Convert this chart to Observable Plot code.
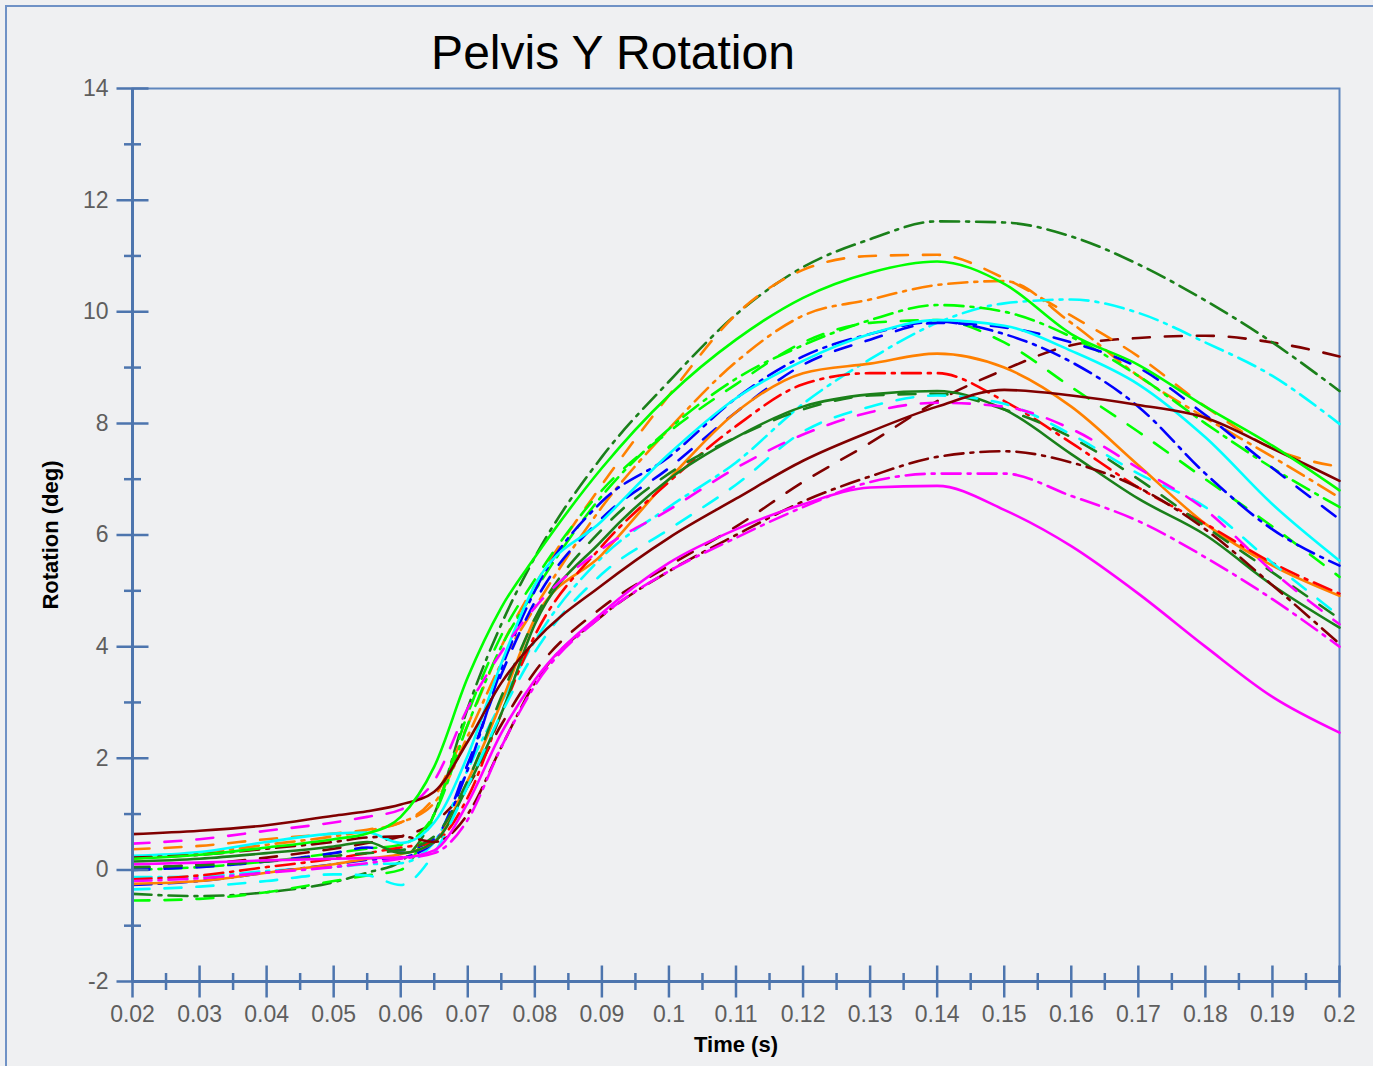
<!DOCTYPE html>
<html>
<head>
<meta charset="utf-8">
<script src="https://cdn.jsdelivr.net/npm/d3@7"></script>
<script src="https://cdn.jsdelivr.net/npm/@observablehq/plot@0.6"></script>
<style>
  html, body { margin: 0; padding: 0; background: #eff0f2; overflow: hidden; }
  #wrap { position: relative; width: 1373px; height: 1066px; }
  #border { position: absolute; left: 5px; top: 5px; width: 1400px; height: 1100px; border: 2px solid #6f92c6; box-sizing: border-box; }
  #chart { position: absolute; left: 0; top: 0; }
</style>
</head>
<body>
<div id="wrap"><div id="border"></div><div id="chart"></div></div>
<script>
// ---- data ----
const time = [0.02,0.03,0.04,0.05,0.055,0.06,0.065,0.07,0.075,0.08,0.09,0.10,0.11,0.12,0.13,0.14,0.15,0.16,0.17,0.18,0.19,0.20];

const darkredSolid    = [0.64,0.70,0.80,0.97,1.05,1.17,1.40,2.30,3.35,4.10,5.10,5.95,6.65,7.33,7.85,8.30,8.60,8.50,8.33,8.10,7.55,6.97];
const darkredDashed   = [0.02,0.10,0.22,0.38,0.48,0.60,0.85,1.50,2.60,3.55,4.70,5.45,6.15,6.95,7.65,8.40,8.96,9.40,9.53,9.57,9.45,9.20];
const darkredDashDot  = [0.22,0.27,0.38,0.50,0.58,0.60,0.50,1.00,2.20,3.35,4.55,5.35,6.00,6.60,7.05,7.40,7.50,7.30,6.85,6.10,5.10,4.05];
const magentaSolid    = [0.10,0.13,0.17,0.20,0.21,0.22,0.35,1.20,2.45,3.40,4.60,5.50,6.10,6.55,6.85,6.88,6.45,5.80,4.95,4.00,3.10,2.46];
const magentaDashed   = [0.47,0.55,0.70,0.85,0.95,1.08,1.60,2.90,3.90,4.70,5.75,6.45,7.20,7.80,8.20,8.37,8.30,7.90,7.20,6.45,5.35,4.40];
const magentaDashDot  = [-0.20,-0.15,-0.05,0.05,0.12,0.20,0.30,0.90,2.20,3.30,4.55,5.35,5.95,6.50,6.95,7.10,7.10,6.70,6.25,5.60,4.85,4.00];
const orangeSolid     = [-0.25,-0.20,-0.05,0.10,0.20,0.28,0.50,1.60,3.00,4.50,5.65,7.00,8.20,8.90,9.07,9.25,9.00,8.30,7.25,6.20,5.45,4.91];
const orangeDashed    = [0.37,0.43,0.55,0.65,0.72,0.85,1.30,2.60,4.00,5.10,6.90,8.50,9.95,10.75,11.00,11.02,10.60,9.93,9.20,8.30,7.55,7.22];
const orangeDashDot   = [0.20,0.30,0.45,0.60,0.70,0.85,1.20,2.40,3.70,4.70,6.50,7.90,9.10,9.93,10.22,10.48,10.55,9.80,8.85,8.10,7.40,6.67];
const cyanSolid       = [0.25,0.32,0.50,0.65,0.67,0.48,0.85,2.05,3.70,5.10,6.25,7.45,8.45,9.12,9.60,9.85,9.75,9.30,8.70,7.75,6.55,5.54];
const cyanDashed      = [-0.35,-0.30,-0.20,-0.08,-0.10,-0.27,0.30,1.50,2.80,3.90,5.30,6.10,6.90,7.85,8.30,8.50,8.35,7.80,7.10,6.50,5.50,4.55];
const cyanDashDot     = [-0.13,-0.12,-0.02,0.05,0.10,0.12,0.50,1.80,3.00,4.10,5.60,6.50,7.30,8.35,9.15,9.80,10.15,10.22,9.98,9.45,8.85,7.99];
const greenSolid      = [0.20,0.27,0.40,0.55,0.65,0.95,1.85,3.45,4.70,5.60,7.20,8.50,9.50,10.25,10.70,10.90,10.50,9.60,9.05,8.30,7.60,6.80];
const greenDashed     = [-0.55,-0.52,-0.40,-0.20,-0.10,0.00,1.00,2.80,4.20,5.20,6.80,7.85,8.70,9.45,9.80,9.85,9.45,8.65,7.85,7.00,6.15,5.25];
const greenDashDot    = [0.00,0.05,0.15,0.30,0.38,0.45,1.00,2.60,4.00,5.00,6.70,7.90,8.80,9.40,9.85,10.12,10.00,9.55,8.85,8.00,7.20,6.50];
const darkgreenSolid  = [0.15,0.20,0.30,0.42,0.50,0.30,0.50,1.50,2.80,4.40,5.90,7.00,7.75,8.30,8.52,8.58,8.25,7.45,6.65,6.00,5.10,4.34];
const darkgreenDashed = [0.05,0.08,0.15,0.25,0.30,0.35,0.60,1.60,3.10,4.50,6.10,7.10,7.75,8.25,8.50,8.53,8.25,7.75,7.00,6.15,5.33,4.50];
const darkgreenDashDot= [-0.43,-0.47,-0.40,-0.22,-0.05,0.15,1.00,2.90,4.40,5.60,7.40,8.75,9.95,10.80,11.30,11.62,11.60,11.35,10.85,10.20,9.45,8.58];
const blueDashed      = [0.00,0.05,0.15,0.30,0.40,0.35,0.55,1.90,3.50,4.80,6.30,7.20,8.20,9.05,9.50,9.80,9.72,9.45,9.00,8.15,7.20,6.28];
const blueDashDot     = [-0.27,-0.20,-0.05,0.10,0.18,0.22,0.50,1.80,3.60,5.00,6.60,7.40,8.45,9.20,9.60,9.82,9.60,9.10,8.30,7.10,6.10,5.45];
const redDashDot      = [-0.17,-0.10,0.05,0.20,0.30,0.40,0.50,1.30,2.80,4.20,5.80,6.95,7.95,8.70,8.90,8.90,8.40,7.65,6.85,6.20,5.50,4.95];

const xTicks = [0.02,0.03,0.04,0.05,0.06,0.07,0.08,0.09,0.1,0.11,0.12,0.13,0.14,0.15,0.16,0.17,0.18,0.19,0.2];
const xMinor = [0.025,0.035,0.045,0.055,0.065,0.075,0.085,0.095,0.105,0.115,0.125,0.135,0.145,0.155,0.165,0.175,0.185,0.195];
const yTicks = [-2,0,2,4,6,8,10,12,14];
const yMinor = [-1,1,3,5,7,9,11,13];

const titleText = "Pelvis Y Rotation";
const xLabel = "Time (s)";
const yLabel = "Rotation (deg)";

// ---- styles ----
const C = {darkred:"#800000", magenta:"#ff00ff", orange:"#ff8000", cyan:"#00ffff",
           green:"#00ff00", darkgreen:"#1a801a", blue:"#0000ff", red:"#ff0000"};
const DASH = "17,15";
const DASHDOT = "19,7,3,7";

const series = [
  {values: darkredDashed,    color: C.darkred,   dash: DASH},
  {values: darkgreenDashDot, color: C.darkgreen, dash: DASHDOT},
  {values: orangeDashed,     color: C.orange,    dash: DASH},
  {values: orangeDashDot,    color: C.orange,    dash: DASHDOT},
  {values: cyanDashDot,      color: C.cyan,      dash: DASHDOT},
  {values: greenDashDot,     color: C.green,     dash: DASHDOT},
  {values: greenDashed,      color: C.green,     dash: DASH},
  {values: blueDashed,       color: C.blue,      dash: DASH},
  {values: blueDashDot,      color: C.blue,      dash: DASHDOT},
  {values: cyanSolid,        color: C.cyan,      dash: null},
  {values: orangeSolid,      color: C.orange,    dash: null},
  {values: redDashDot,       color: C.red,       dash: DASHDOT},
  {values: darkgreenDashed,  color: C.darkgreen, dash: DASH},
  {values: darkgreenSolid,   color: C.darkgreen, dash: null},
  {values: cyanDashed,       color: C.cyan,      dash: DASH},
  {values: magentaDashed,    color: C.magenta,   dash: DASH},
  {values: darkredDashDot,   color: C.darkred,   dash: DASHDOT},
  {values: magentaDashDot,   color: C.magenta,   dash: DASHDOT},
  {values: magentaSolid,     color: C.magenta,   dash: null},
  {values: darkredSolid,     color: C.darkred,   dash: null},
  {values: greenSolid,       color: C.green,     dash: null}
];

const axisColor = "#4d75ae";
const frameColor = "#5f86bd";
const labelColor = "#5e5e5e";
const font = "'Liberation Sans', Arial, Helvetica, sans-serif";

const vTick = h => ({draw(ctx) { ctx.moveTo(0, -h); ctx.lineTo(0, h); }});
const hTick = h => ({draw(ctx) { ctx.moveTo(-h, 0); ctx.lineTo(h, 0); }});

const lineMarks = series.map(s => Plot.line(time.map((t, i) => ({t, v: s.values[i]})), {
  x: "t", y: "v", stroke: s.color, strokeWidth: 2.6,
  strokeDasharray: s.dash, curve: "monotone-x"
}));

const chart = Plot.plot({
  width: 1373,
  height: 1066,
  marginLeft: 132,
  marginRight: 34,
  marginTop: 88,
  marginBottom: 85,
  style: {background: "transparent", fontFamily: font, overflow: "visible"},
  x: {domain: [0.02, 0.2], axis: null},
  y: {domain: [-2, 14], axis: null},
  marks: [
    Plot.frame({stroke: frameColor, strokeWidth: 2}),
    ...lineMarks,
    Plot.ruleX([0.02], {stroke: axisColor, strokeWidth: 3}),
    Plot.ruleY([-2], {stroke: axisColor, strokeWidth: 3}),
    Plot.dot(xTicks, {x: d => d, frameAnchor: "bottom", symbol: vTick(16), stroke: axisColor, strokeWidth: 2.5, fill: "none"}),
    Plot.dot(xMinor, {x: d => d, frameAnchor: "bottom", symbol: vTick(8.5), stroke: axisColor, strokeWidth: 2.5, fill: "none"}),
    Plot.dot(yTicks, {y: d => d, frameAnchor: "left", symbol: hTick(16), stroke: axisColor, strokeWidth: 2.5, fill: "none"}),
    Plot.dot(yMinor, {y: d => d, frameAnchor: "left", symbol: hTick(8.5), stroke: axisColor, strokeWidth: 2.5, fill: "none"}),
    Plot.axisX({ticks: xTicks, anchor: "bottom", tickSize: 0, tickPadding: 24, fontSize: 23, color: labelColor, tickFormat: d => String(d), label: null}),
    Plot.axisY({ticks: yTicks, anchor: "left", tickSize: 0, tickPadding: 24, fontSize: 23, color: labelColor, tickFormat: d => String(d), label: null}),
    Plot.text([titleText], {text: d => d, frameAnchor: "top", textAnchor: "middle", dx: -123, dy: -54, fontSize: 48, fill: "#000"}),
    Plot.text([xLabel], {text: d => d, frameAnchor: "bottom", textAnchor: "middle", dy: 70, fontSize: 22, fontWeight: "bold", fill: "#000"}),
    Plot.text([yLabel], {text: d => d, frameAnchor: "left", textAnchor: "middle", dx: -82, rotate: -90, fontSize: 22, fontWeight: "bold", fill: "#000"})
  ]
});
document.getElementById("chart").appendChild(chart);
</script>
</body>
</html>
